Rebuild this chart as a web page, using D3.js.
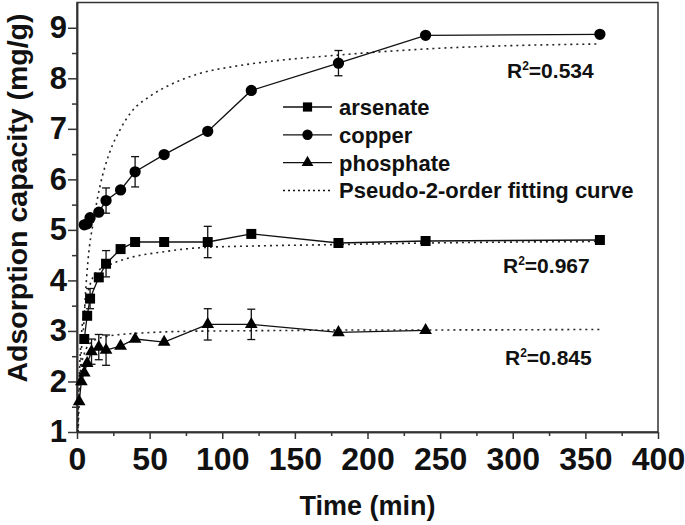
<!DOCTYPE html>
<html>
<head>
<meta charset="utf-8">
<script src="https://cdn.jsdelivr.net/npm/d3@7"></script>
<style>
  body { margin: 0; background: #fff; }
  text { font-family: Arial, "Liberation Sans", sans-serif; font-weight: bold; fill: #111; }
</style>
</head>
<body>
<script>
// measured series (time in min, adsorption capacity in mg/g)
var timeArs = [5, 7, 9, 15, 20, 30, 40, 60, 90, 120, 180, 240, 360];
var qArs    = [2.84, 3.30, 3.64, 4.06, 4.33, 4.62, 4.76, 4.76, 4.76, 4.92, 4.74, 4.78, 4.80];
var errArs  = [0, 0, 0.2, 0, 0.26, 0, 0, 0, 0.31, 0, 0, 0, 0];

var timeCu = [5, 7, 9, 15, 20, 30, 40, 60, 90, 120, 180, 240, 360];
var qCu    = [5.10, 5.12, 5.24, 5.35, 5.58, 5.79, 6.15, 6.49, 6.95, 7.76, 8.30, 8.85, 8.87];
var errCu  = [0, 0, 0, 0, 0.25, 0, 0.3, 0, 0, 0, 0.25, 0, 0];

var timeP = [1.5, 3, 5, 7, 10, 15, 20, 30, 40, 60, 90, 120, 180, 240];
var qP    = [1.60, 2.00, 2.17, 2.36, 2.59, 2.68, 2.62, 2.70, 2.84, 2.78, 3.13, 3.13, 2.97, 3.01];
var errP  = [0, 0, 0, 0, 0.25, 0.25, 0.3, 0, 0, 0, 0.31, 0.3, 0, 0];

// pseudo-2-order fitting curves
var fitTimeCu = [0.8, 2, 3, 4.6, 5.7, 7.6, 11.5, 15.8, 22.7, 29.6, 37.6, 50, 64, 85, 107, 126, 180, 240, 360];
var fitQCu    = [1.0, 2.0, 2.6, 3.1, 3.67, 4.4, 5.2, 5.86, 6.55, 6.98, 7.34, 7.64, 7.87, 8.10, 8.23, 8.31, 8.46, 8.58, 8.68];
var fitTimeArs = [0.5, 1, 2, 3, 5, 7, 10, 15, 21.6, 35, 58, 86, 120, 180, 240, 360];
var fitQArs    = [0.96, 1.6, 2.4, 2.9, 3.4, 3.7, 4.0, 4.2, 4.3, 4.44, 4.56, 4.65, 4.68, 4.71, 4.74, 4.77];
var fitTimeP = [0.5, 1, 2, 3, 5, 10, 20, 30, 45, 70, 100, 150, 200, 250, 360];
var fitQP    = [1.0, 1.5, 2.0, 2.3, 2.55, 2.78, 2.89, 2.93, 2.96, 2.99, 3.0, 3.01, 3.02, 3.02, 3.03];

var legendLabels = ["arsenate", "copper", "phosphate", "Pseudo-2-order fitting curve"];
var r2Labels = ["0.534", "0.967", "0.845"];
var r2Pos = [[507, 78], [503, 273], [505, 365]];

var xTicks = [0, 50, 100, 150, 200, 250, 300, 350, 400];
var yTicks = [1, 2, 3, 4, 5, 6, 7, 8, 9];

var width = 685, height = 525;
var margin = {top: 2.5, right: 27, bottom: 93, left: 77};
var plotW = width - margin.left - margin.right;
var plotH = height - margin.top - margin.bottom;

var svg = d3.select("body").append("svg")
    .attr("width", width)
    .attr("height", height);

var canvas = svg.append("g")
    .attr("transform", "translate(" + margin.left + "," + margin.top + ")");

var xScale = d3.scaleLinear().domain([0, 400]).range([0, plotW]);
var yScale = d3.scaleLinear().domain([1, 9.5]).range([plotH, 0]);

canvas.append("clipPath").attr("id", "plotclip")
  .append("rect").attr("width", plotW).attr("height", plotH);

// frame
canvas.append("rect")
    .attr("width", plotW).attr("height", plotH)
    .attr("fill", "none").attr("stroke", "#333").attr("stroke-width", 1.5);

// axes
var xAxis = canvas.append("g")
    .attr("transform", "translate(0," + plotH + ")")
    .call(d3.axisBottom(xScale).tickValues(xTicks).tickSize(7).tickSizeOuter(0).tickPadding(8));
xAxis.selectAll("text").style("font-size", "32px");

canvas.append("g")
    .attr("transform", "translate(0," + plotH + ")")
    .call(d3.axisBottom(xScale).tickValues(d3.range(25, 400, 50)).tickSize(4).tickSizeOuter(0).tickFormat(""));

var yAxis = canvas.append("g")
    .call(d3.axisLeft(yScale).tickValues(yTicks).tickSize(9).tickSizeOuter(0).tickPadding(1));
yAxis.selectAll("text").style("font-size", "31px");

canvas.append("g")
    .call(d3.axisLeft(yScale).tickValues(d3.range(1.5, 9.5, 1)).tickSize(5).tickSizeOuter(0).tickFormat(""));

canvas.selectAll(".domain").attr("stroke", "#333").attr("stroke-width", 1.5);
canvas.selectAll(".tick line").attr("stroke", "#333").attr("stroke-width", 1.5);

// axis titles
svg.append("text")
    .attr("x", margin.left + plotW / 2)
    .attr("y", 515)
    .attr("text-anchor", "middle")
    .style("font-size", "27px")
    .text("Time (min)");

svg.append("text")
    .attr("transform", "translate(27," + 198 + ") rotate(-90)")
    .attr("text-anchor", "middle")
    .style("font-size", "28.5px")
    .text("Adsorption capacity (mg/g)");

// fitting curves
var fitLine = d3.line()
    .x(function(d) { return xScale(d[0]); })
    .y(function(d) { return yScale(d[1]); })
    .curve(d3.curveMonotoneX);

var fits = [[fitTimeCu, fitQCu], [fitTimeArs, fitQArs], [fitTimeP, fitQP]];
fits.forEach(function(f) {
  canvas.append("path")
    .datum(d3.zip(f[0], f[1]))
    .attr("clip-path", "url(#plotclip)")
    .attr("fill", "none")
    .attr("stroke", "#222")
    .attr("stroke-width", 1.6)
    .attr("stroke-dasharray", "2,4")
    .attr("d", fitLine);
});

// data series
var series = [
  {t: timeArs, q: qArs, e: errArs, sym: d3.symbolSquare, size: 100},
  {t: timeCu, q: qCu, e: errCu, sym: d3.symbolCircle, size: 100},
  {t: timeP, q: qP, e: errP, sym: d3.symbolTriangle, size: 70}
];

var line = d3.line()
    .x(function(d) { return xScale(d[0]); })
    .y(function(d) { return yScale(d[1]); });

series.forEach(function(s) {
  var pts = d3.zip(s.t, s.q, s.e);

  canvas.append("path")
    .datum(pts)
    .attr("fill", "none")
    .attr("stroke", "#111")
    .attr("stroke-width", 1.3)
    .attr("d", line);

  var bars = canvas.append("g").selectAll("g")
    .data(pts.filter(function(d) { return d[2] > 0; }))
    .enter().append("g")
    .attr("stroke", "#111").attr("stroke-width", 1.3);
  bars.append("line")
    .attr("x1", function(d) { return xScale(d[0]); })
    .attr("x2", function(d) { return xScale(d[0]); })
    .attr("y1", function(d) { return yScale(d[1] - d[2]); })
    .attr("y2", function(d) { return yScale(d[1] + d[2]); });
  [-1, 1].forEach(function(sgn) {
    bars.append("line")
      .attr("x1", function(d) { return xScale(d[0]) - 4; })
      .attr("x2", function(d) { return xScale(d[0]) + 4; })
      .attr("y1", function(d) { return yScale(d[1] + sgn * d[2]); })
      .attr("y2", function(d) { return yScale(d[1] + sgn * d[2]); });
  });

  canvas.append("g").selectAll("path")
    .data(pts)
    .enter().append("path")
    .attr("transform", function(d) { return "translate(" + xScale(d[0]) + "," + yScale(d[1]) + ")"; })
    .attr("d", d3.symbol().type(s.sym).size(s.size))
    .attr("fill", "#000");
});

// legend
var legend = svg.append("g").attr("transform", "translate(283,107)");
legendLabels.forEach(function(lbl, i) {
  var row = legend.append("g").attr("transform", "translate(0," + (i * 27.8) + ")");
  var ln = row.append("line")
    .attr("x1", 0).attr("x2", 49)
    .attr("stroke", "#111");
  if (i < 3) {
    ln.attr("stroke-width", 1.3);
    row.append("path")
      .attr("transform", "translate(24.5,0)")
      .attr("d", d3.symbol().type(series[i].sym).size(i == 2 ? 60 : 85))
      .attr("fill", "#000");
  } else {
    ln.attr("stroke-width", 1.5).attr("stroke-dasharray", "2,3");
  }
  row.append("text")
    .attr("x", 56).attr("y", 8)
    .style("font-size", "22px")
    .text(lbl);
});

// R^2 annotations
r2Labels.forEach(function(v, i) {
  var t = svg.append("text")
    .attr("x", r2Pos[i][0]).attr("y", r2Pos[i][1])
    .style("font-size", "21px");
  t.append("tspan").text("R");
  t.append("tspan").attr("dy", -8).style("font-size", "12px").text("2");
  t.append("tspan").attr("dy", 8).text("=" + v);
});
</script>
</body>
</html>
